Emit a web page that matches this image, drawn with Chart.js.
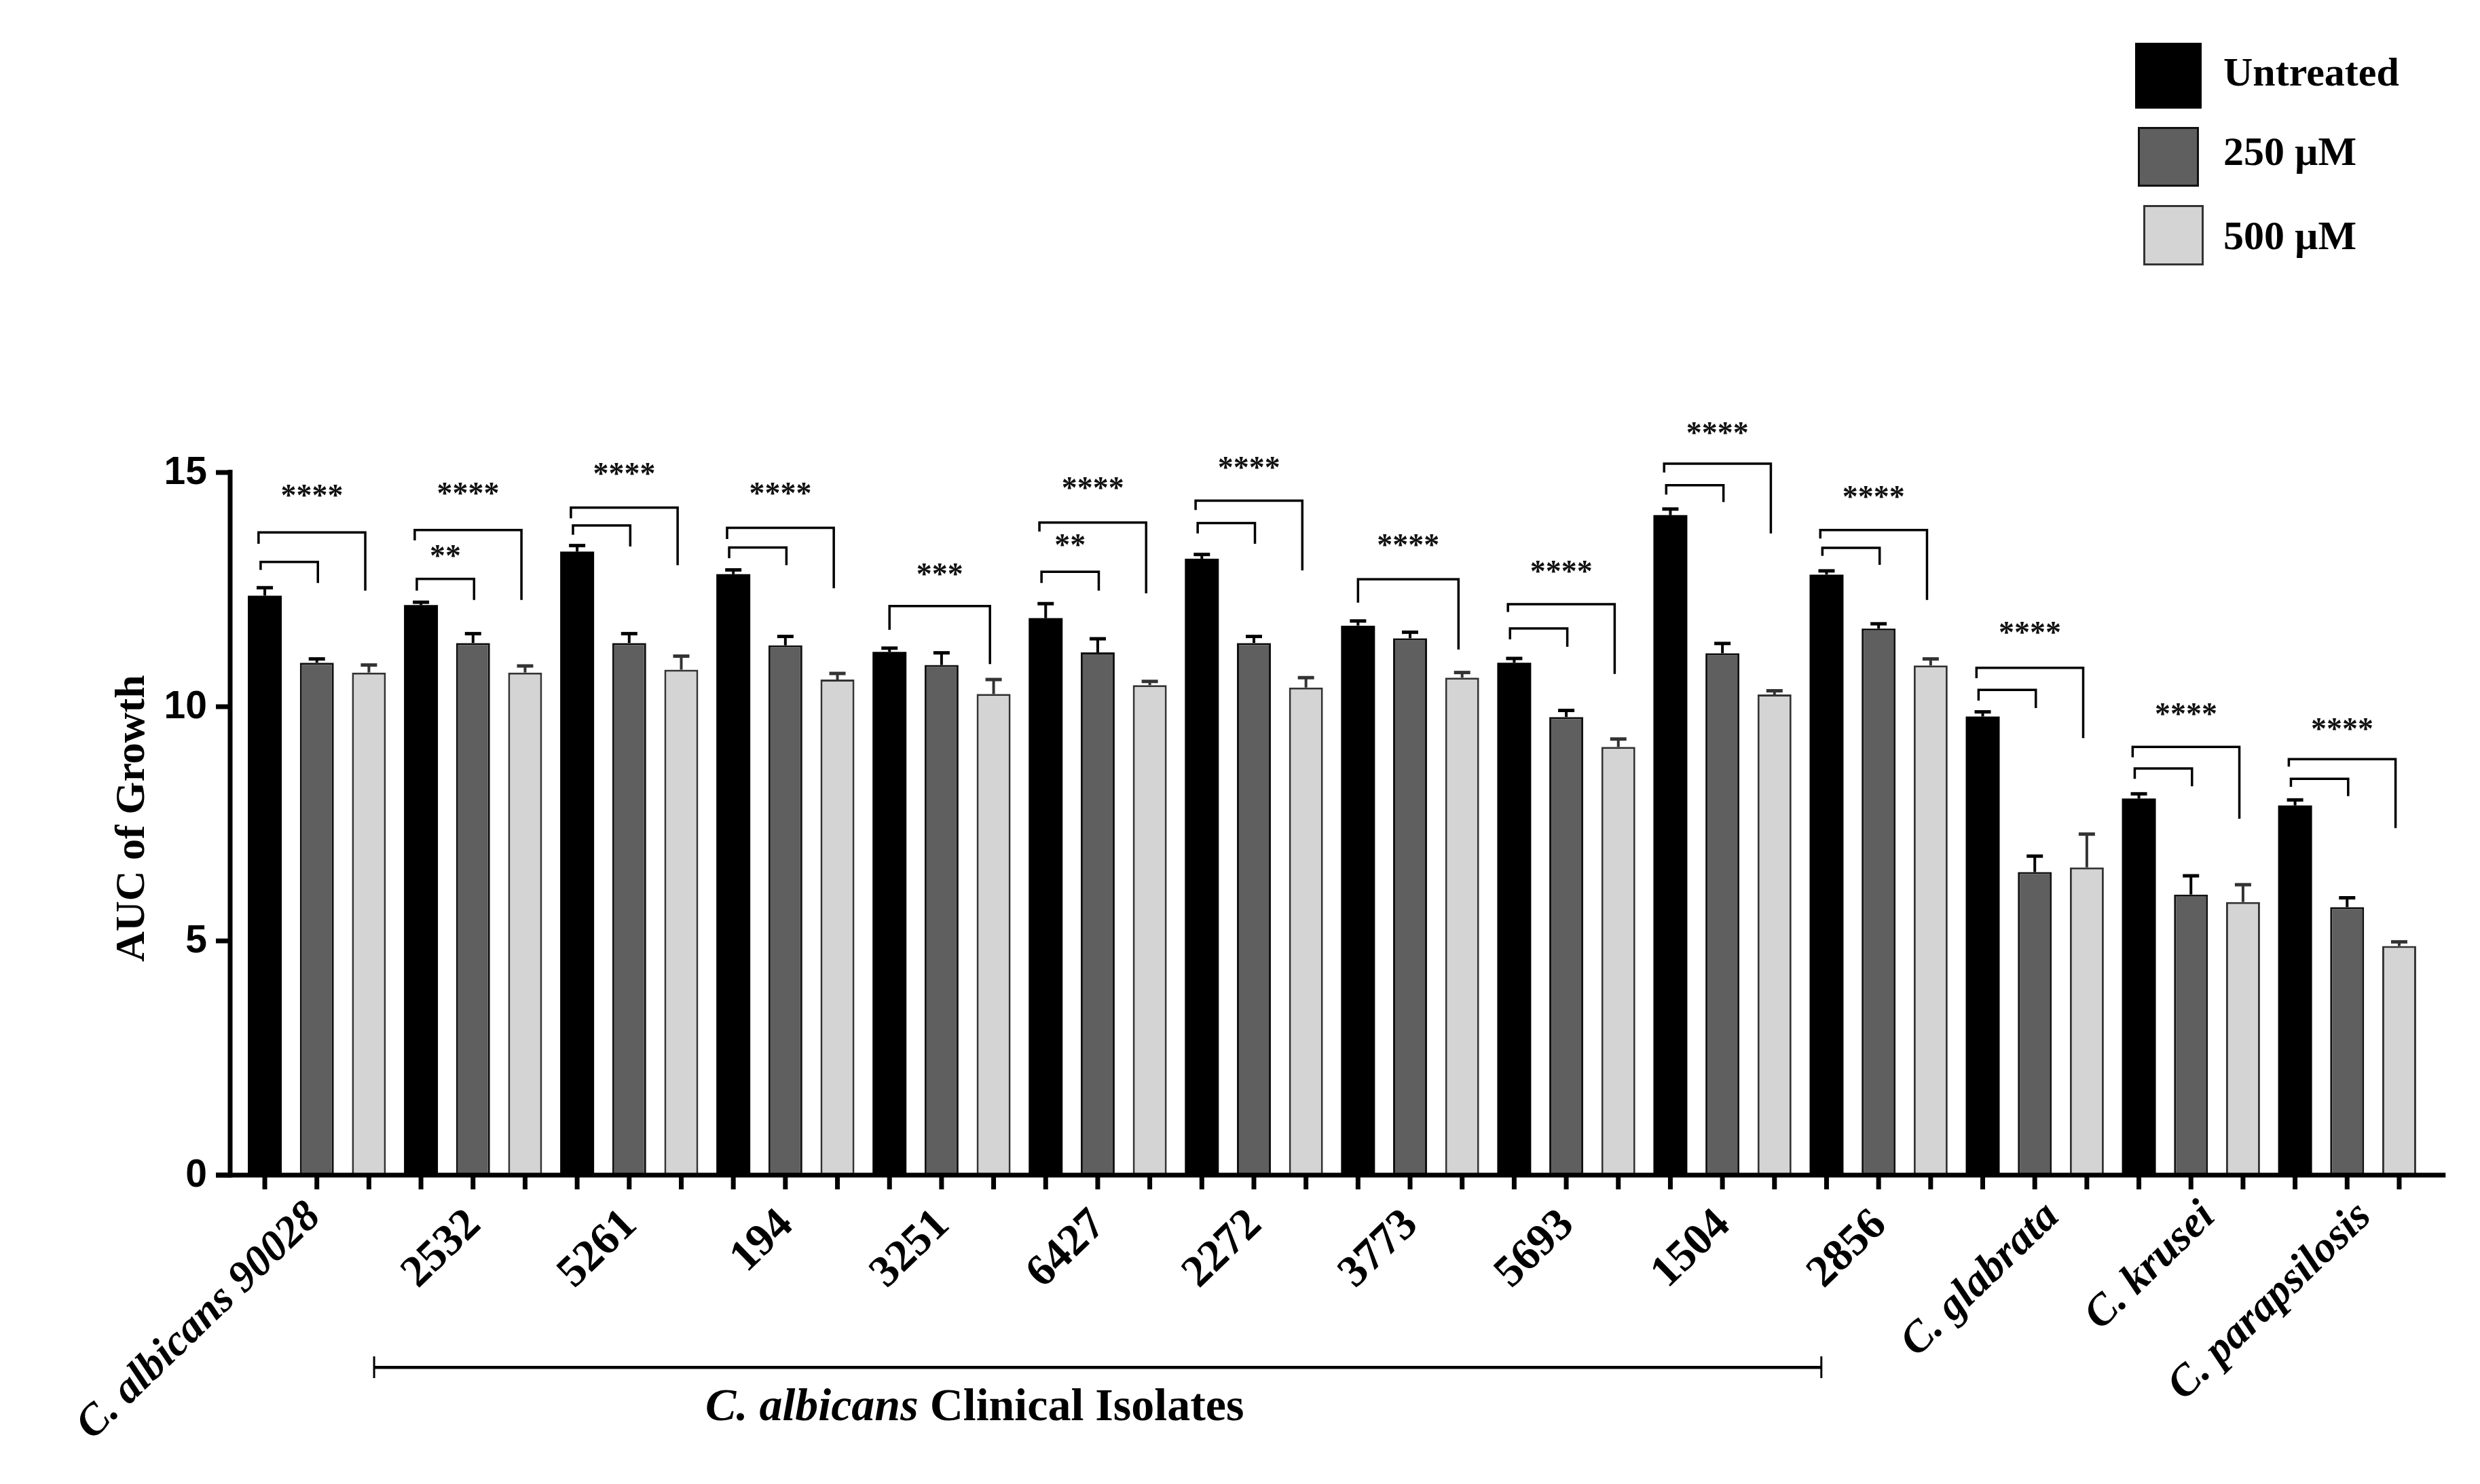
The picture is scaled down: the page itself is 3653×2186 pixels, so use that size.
<!DOCTYPE html>
<html lang="en">
<head>
<meta charset="UTF-8">
<title>AUC of Growth</title>
<script src="https://cdn.jsdelivr.net/npm/chart.js"></script>
<style>
  html, body { margin: 0; padding: 0; background: #fff; }
  #wrap { width: 3653px; height: 2186px; }
</style>
</head>
<body>
<div id="wrap"><canvas id="auc" width="3653" height="2186"></canvas></div>
<script>
// strains on the x axis
const strains = ['C. albicans 90028', '2532', '5261', '194', '3251', '6427', '2272', '3773', '5693', '1504', '2856', 'C. glabrata', 'C. krusei', 'C. parapsilosis'];

// mean AUC per treatment
const untreated  = [12.37, 12.17, 13.31, 12.83, 11.17, 11.89, 13.16, 11.73, 10.94, 14.09, 12.82, 9.79, 8.04, 7.89];
const treated250 = [10.94, 11.36, 11.36, 11.31, 10.89, 11.16, 11.36, 11.46, 9.78, 11.14, 11.67, 6.47, 5.99, 5.72];
const treated500 = [10.73, 10.73, 10.79, 10.58, 10.27, 10.46, 10.41, 10.62, 9.14, 10.26, 10.88, 6.57, 5.83, 4.89];

// error bars (upper only)
const semUntreated = [0.17, 0.06, 0.13, 0.09, 0.08, 0.31, 0.09, 0.10, 0.09, 0.13, 0.08, 0.10, 0.10, 0.12];
const sem250       = [0.08, 0.20, 0.20, 0.19, 0.26, 0.29, 0.14, 0.13, 0.14, 0.21, 0.10, 0.34, 0.40, 0.20];
const sem500       = [0.16, 0.14, 0.29, 0.13, 0.31, 0.08, 0.21, 0.11, 0.17, 0.08, 0.14, 0.71, 0.37, 0.09];

const yTicks = [0, 5, 10, 15];

// significance brackets: [bar level, left leg end, right leg end] in AUC units
const innerBracket = [
  [13.09, 12.92, 12.64], [12.73, 12.48, 12.28], [13.87, 13.67, 13.42], [13.40, 13.17, 13.02],
  null, [12.88, 12.64, 12.48], [13.92, 13.70, 13.48], null,
  [11.67, 11.44, 11.28], [14.73, 14.53, 14.37], [13.39, 13.22, 13.03], [10.36, 10.13, 9.97],
  [8.68, 8.46, 8.30], [8.46, 8.29, 8.09]
];
const outerBracket = [
  [13.72, 13.48, 12.48], [13.77, 13.55, 12.28], [14.25, 14.02, 13.02], [13.82, 13.58, 12.53],
  [12.15, 11.64, 10.91], [13.93, 13.74, 12.42], [14.40, 14.20, 12.91], [12.72, 12.22, 11.22],
  [12.19, 12.02, 10.70], [15.19, 15.00, 13.70], [13.77, 13.59, 12.28], [10.83, 10.61, 9.33],
  [9.14, 8.92, 7.61], [8.88, 8.72, 7.41]
];
const innerStars = ['', '**', '', '', '', '**', '', '', '', '', '', '', '', ''];
const innerStarY = [0, 13.30, 0, 0, 0, 13.54, 0, 0, 0, 0, 0, 0, 0, 0];
const outerStars = ['****', '****', '****', '****', '***', '****', '****', '****', '****', '****', '****', '****', '****', '****'];
const outerStarY = [14.59, 14.64, 15.05, 14.64, 12.91, 14.75, 15.19, 13.54, 12.97, 15.92, 14.56, 11.67, 9.92, 9.61];

const legendLabels = ['Untreated', '250 µM', '500 µM'];

const serif = '"Liberation Serif", "Times New Roman", serif';
const sans = '"Liberation Sans", Arial, sans-serif';

const decorations = {
  id: 'decorations',
  afterDatasetsDraw(chart) {
    const { ctx, chartArea, scales: { x, y } } = chart;
    const bars = [0, 1, 2].map(d => chart.getDatasetMeta(d).data);
    const values = [untreated, treated250, treated500];
    const sems = [semUntreated, sem250, sem500];
    const y0 = y.getPixelForValue(0);
    const yMax = y.getPixelForValue(15);
    const sp = bars[1][0].x - bars[0][0].x;

    ctx.save();

    // error bars
    const errColors = ['#000', '#000', '#333'];
    bars.forEach((els, d) => els.forEach((el, i) => {
      const top = y.getPixelForValue(values[d][i] + sems[d][i]);
      ctx.strokeStyle = errColors[d];
      ctx.lineWidth = 4;
      ctx.beginPath();
      ctx.moveTo(el.x, el.y);
      ctx.lineTo(el.x, top);
      ctx.stroke();
      ctx.lineWidth = 5;
      ctx.beginPath();
      ctx.moveTo(el.x - 12, top);
      ctx.lineTo(el.x + 12, top);
      ctx.stroke();
    }));

    // axes
    const axisX = chartArea.left - 12.7;
    ctx.fillStyle = '#000';
    ctx.fillRect(axisX - 3.5, yMax - 4, 7, y0 - yMax + 7.5);
    ctx.fillRect(axisX - 21, y0 - 3.5, chartArea.right + 30 - axisX + 21, 7);

    // y ticks + labels
    ctx.font = 'bold 57px ' + sans;
    ctx.textAlign = 'right';
    ctx.textBaseline = 'middle';
    yTicks.forEach(t => {
      const py = y.getPixelForValue(t);
      ctx.fillRect(axisX - 21, py - 3.5, 21, 7);
      ctx.fillText(String(t), axisX - 34, py + 1);
    });

    // x ticks under every bar
    bars.forEach(els => els.forEach(el => ctx.fillRect(el.x - 3.5, y0, 7, 21)));

    // y title
    ctx.save();
    ctx.translate(axisX - 127, (yMax + y0) / 2 - 8);
    ctx.rotate(-Math.PI / 2);
    ctx.font = 'bold 62px ' + serif;
    ctx.textAlign = 'center';
    ctx.textBaseline = 'alphabetic';
    ctx.fillText('AUC of Growth', 0, 0);
    ctx.restore();

    // category labels
    strains.forEach((s, i) => {
      const cx = x.getPixelForValue(i);
      const species = s.startsWith('C.');
      const dx = species ? (/\d/.test(s) ? 8 : 38) : 14;
      ctx.save();
      ctx.translate(cx + dx, y0 + (species ? 64 : 76));
      ctx.rotate(-44 * Math.PI / 180);
      ctx.font = (species ? 'italic bold 64px ' : 'bold 66px ') + serif;
      ctx.textAlign = 'right';
      ctx.textBaseline = 'alphabetic';
      ctx.fillText(s, 0, 0);
      ctx.restore();
    });

    // significance brackets
    ctx.strokeStyle = '#000';
    ctx.lineWidth = 3.5;
    ctx.fillStyle = '#111';
    ctx.font = 'bold 46px ' + serif;
    ctx.textAlign = 'center';
    ctx.textBaseline = 'middle';
    const bracket = (x1, x2, lv) => {
      const py = y.getPixelForValue(lv[0]);
      ctx.beginPath();
      ctx.moveTo(x1, y.getPixelForValue(lv[1]));
      ctx.lineTo(x1, py);
      ctx.lineTo(x2, py);
      ctx.lineTo(x2, y.getPixelForValue(lv[2]));
      ctx.stroke();
    };
    strains.forEach((s, i) => {
      const bx = bars[0][i].x, gx = bars[1][i].x, lx = bars[2][i].x;
      if (innerBracket[i]) {
        const x1 = bx - 0.08 * sp, x2 = gx + 0.02 * sp;
        bracket(x1, x2, innerBracket[i]);
        if (innerStars[i]) ctx.fillText(innerStars[i], (x1 + x2) / 2, y.getPixelForValue(innerStarY[i]) + 9);
      }
      const x1 = bx - (innerBracket[i] ? 0.12 : 0) * sp, x2 = lx - 0.07 * sp;
      bracket(x1, x2, outerBracket[i]);
      ctx.fillText(outerStars[i], (x1 + x2) / 2, y.getPixelForValue(outerStarY[i]) + 9);
    });

    // clinical isolates bracket
    const gl = bars[0][1].x - 0.9 * sp;
    const gr = bars[0][10].x - 0.1 * sp;
    const gy = y0 + 283;
    ctx.fillStyle = '#000';
    ctx.fillRect(gl, gy - 2, gr - gl, 4.5);
    ctx.fillRect(gl - 1.5, gy - 16, 3, 32);
    ctx.fillRect(gr - 1.5, gy - 16, 3, 32);

    const partA = 'C. albicans', partB = ' Clinical Isolates';
    ctx.font = 'bold italic 68px ' + serif;
    const wA = ctx.measureText(partA).width;
    ctx.font = 'bold 68px ' + serif;
    const wB = ctx.measureText(partB).width;
    const tx = gl + 0.415 * (gr - gl) - (wA + wB) / 2;
    ctx.textAlign = 'left';
    ctx.textBaseline = 'alphabetic';
    ctx.font = 'bold italic 68px ' + serif;
    ctx.fillText(partA, tx, gy + 78);
    ctx.font = 'bold 68px ' + serif;
    ctx.fillText(partB, tx + wA, gy + 78);

    // legend
    const boxes = [[3145, 63, 98, 97], [3149, 187, 90, 88], [3157, 302, 89, 89]];
    const fills = ['#000', '#5f5f5f', '#d4d4d4'];
    const edges = [null, '#111', '#333'];
    const baselines = [126, 243, 367];
    legendLabels.forEach((lab, k) => {
      const [bx, by, bw, bh] = boxes[k];
      ctx.fillStyle = fills[k];
      ctx.fillRect(bx, by, bw, bh);
      if (edges[k]) {
        ctx.strokeStyle = edges[k];
        ctx.lineWidth = 3;
        ctx.strokeRect(bx + 1.5, by + 1.5, bw - 3, bh - 3);
      }
      ctx.fillStyle = '#000';
      ctx.font = 'bold 60px ' + serif;
      ctx.fillText(lab, 3275, baselines[k]);
    });

    ctx.restore();
  }
};

new Chart(document.getElementById('auc'), {
  type: 'bar',
  data: {
    labels: strains,
    datasets: [
      { label: legendLabels[0], data: untreated, backgroundColor: '#000', borderWidth: 0 },
      { label: legendLabels[1], data: treated250, backgroundColor: '#5f5f5f', borderColor: '#111', borderWidth: 3 },
      { label: legendLabels[2], data: treated500, backgroundColor: '#d4d4d4', borderColor: '#333', borderWidth: 3 }
    ]
  },
  options: {
    responsive: false,
    animation: false,
    devicePixelRatio: 1,
    layout: { padding: { left: 351.7, right: 80.7, top: 696, bottom: 455 } },
    datasets: { bar: { categoryPercentage: 1, barPercentage: 0.652 } },
    scales: {
      x: { display: false },
      y: { display: false, min: 0, max: 15 }
    },
    plugins: { legend: { display: false }, tooltip: { enabled: false } }
  },
  plugins: [decorations]
});
</script>
</body>
</html>
